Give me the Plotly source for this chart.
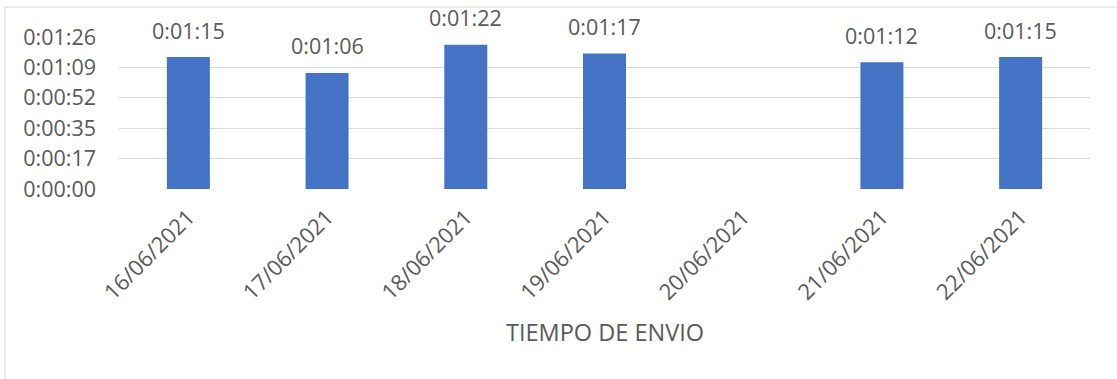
import plotly.graph_objects as go

categories = ["16/06/2021", "17/06/2021", "18/06/2021", "19/06/2021",
              "20/06/2021", "21/06/2021", "22/06/2021"]
seconds = [75, 66, 82, 77, None, 72, 75]
value_labels = ["0:01:15", "0:01:06", "0:01:22", "0:01:17", None, "0:01:12", "0:01:15"]
y_tickvals = [0, 17.28, 34.56, 51.84, 69.12, 86.4]
y_ticktext = ["0:00:00", "0:00:17", "0:00:35", "0:00:52", "0:01:09", "0:01:26"]
axis_title = "TIEMPO DE ENVIO"

TEXT = "#595959"
GRID = "#D9D9D9"
FONT = "Open Sans"

W, H = 1117, 379
L, R, T, B = 119, 27, 37, 190
plot_h = H - T - B
plot_w = W - L - R

fig = go.Figure()
fig.add_trace(go.Bar(
    x=categories, y=seconds, width=0.31,
    marker=dict(color="#4472C4", line=dict(width=0)),
    hoverinfo="skip",
))

annotations = []
for c, v, lab in zip(categories, seconds, value_labels):
    if v is None:
        continue
    annotations.append(dict(
        x=c, y=v, xref="x", yref="y", text=lab, showarrow=False,
        yanchor="middle", yshift=27,
        font=dict(family=FONT, size=21.5, color=TEXT),
    ))

annotations.append(dict(
    x=0.5, y=(-(332 - (H - B)) / plot_h), xref="paper", yref="paper",
    text=axis_title, showarrow=False, yanchor="middle", xanchor="center",
    font=dict(family=FONT, size=23.5, color=TEXT),
))

fig.update_layout(
    width=W, height=H,
    margin=dict(l=L, r=R, t=T, b=B, pad=0),
    paper_bgcolor="white", plot_bgcolor="white",
    showlegend=False,
    font=dict(family=FONT, size=21.5, color=TEXT),
    annotations=annotations,
    shapes=[dict(
        type="rect", xref="paper", yref="paper",
        x0=(5 - L) / plot_w, x1=(1130 - L) / plot_w,
        y0=((H - B) - 400) / plot_h, y1=((H - B) - 7) / plot_h,
        line=dict(color=GRID, width=1), fillcolor="rgba(0,0,0,0)", layer="below",
    )],
)

fig.update_yaxes(
    range=[0, 86.4], tickvals=y_tickvals, ticktext=y_ticktext,
    showgrid=True, gridcolor=GRID, gridwidth=1, zeroline=False,
    showline=False, ticks="", ticklabelstandoff=22,
    tickfont=dict(family=FONT, size=21.5, color=TEXT),
)
fig.update_xaxes(
    type="category", showgrid=False, showline=False, zeroline=False,
    ticks="", tickangle=-45, ticklabelstandoff=10,
    tickfont=dict(family=FONT, size=22, color=TEXT),
)

fig.write_html("out.html")
